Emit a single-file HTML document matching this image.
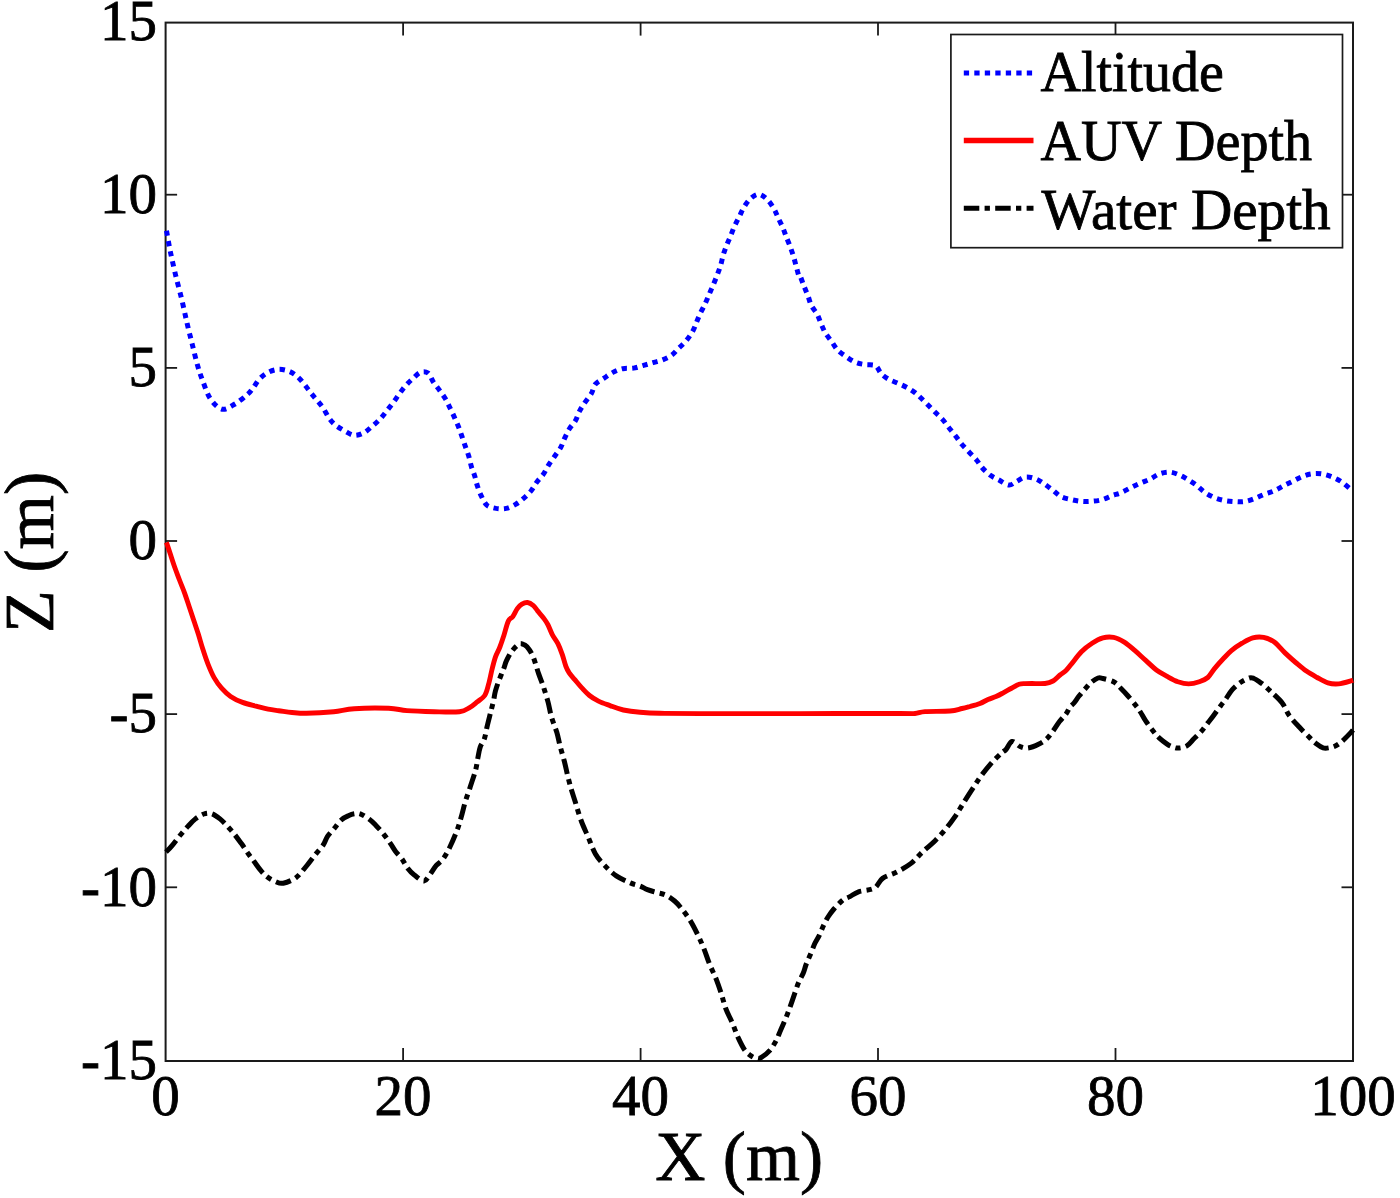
<!DOCTYPE html>
<html><head><meta charset="utf-8"><title>Altitude / AUV Depth / Water Depth</title>
<style>html,body{margin:0;padding:0;background:#fff;width:1400px;height:1198px;overflow:hidden}svg{display:block}</style>
</head><body>
<svg width="1400" height="1198" viewBox="0 0 1400 1198">
<rect width="1400" height="1198" fill="#fff"/>
<g stroke="#1a1a1a" stroke-width="1.8"><rect x="165.6" y="22.6" width="1187.4" height="1038.4" fill="none" stroke="#1a1a1a" stroke-width="2"/><line x1="403.1" y1="1061.0" x2="403.1" y2="1048.0"/><line x1="403.1" y1="22.6" x2="403.1" y2="35.6"/><line x1="640.6" y1="1061.0" x2="640.6" y2="1048.0"/><line x1="640.6" y1="22.6" x2="640.6" y2="35.6"/><line x1="878.0" y1="1061.0" x2="878.0" y2="1048.0"/><line x1="878.0" y1="22.6" x2="878.0" y2="35.6"/><line x1="1115.5" y1="1061.0" x2="1115.5" y2="1048.0"/><line x1="1115.5" y1="22.6" x2="1115.5" y2="35.6"/><line x1="165.6" y1="887.3" x2="177.1" y2="887.3"/><line x1="1353.0" y1="887.3" x2="1341.5" y2="887.3"/><line x1="165.6" y1="714.1" x2="177.1" y2="714.1"/><line x1="1353.0" y1="714.1" x2="1341.5" y2="714.1"/><line x1="165.6" y1="541.0" x2="177.1" y2="541.0"/><line x1="1353.0" y1="541.0" x2="1341.5" y2="541.0"/><line x1="165.6" y1="367.9" x2="177.1" y2="367.9"/><line x1="1353.0" y1="367.9" x2="1341.5" y2="367.9"/><line x1="165.6" y1="194.7" x2="177.1" y2="194.7"/><line x1="1353.0" y1="194.7" x2="1341.5" y2="194.7"/></g>
<clipPath id="c"><rect x="162.6" y="19.6" width="1193.4" height="1044.4"/></clipPath>
<g clip-path="url(#c)" fill="none" stroke-linejoin="round">
<path d="M166.5,230.7 C167.1,234.1 168.8,244.1 170.3,251.4 C171.8,258.7 173.6,266.5 175.5,274.7 C177.4,282.9 180.1,292.3 182.0,300.5 C183.9,308.7 185.5,316.5 187.2,323.8 C188.9,331.1 190.6,337.6 192.3,344.5 C194.0,351.4 195.8,359.2 197.5,365.2 C199.2,371.2 200.5,375.1 202.7,380.7 C204.8,386.3 207.2,394.1 210.4,398.8 C213.6,403.6 218.0,408.3 222.1,409.2 C226.2,410.1 230.7,406.5 235.0,404.0 C239.3,401.5 244.9,396.7 247.9,394.0 C250.9,391.3 251.2,390.3 253.2,387.8 C255.1,385.3 257.1,381.4 259.6,378.8 C262.1,376.2 264.9,374.0 268.0,372.4 C271.1,370.8 274.9,369.6 278.3,369.4 C281.7,369.2 285.5,370.0 288.6,371.1 C291.7,372.2 294.3,374.1 296.9,376.2 C299.5,378.3 301.8,381.2 304.0,383.9 C306.2,386.6 308.3,389.6 310.4,392.3 C312.5,395.0 314.6,397.3 316.8,400.0 C319.0,402.7 321.3,405.3 323.3,408.3 C325.3,411.3 327.0,415.2 329.0,418.0 C331.0,420.8 332.9,423.0 335.5,425.1 C338.1,427.2 341.4,429.1 344.5,430.8 C347.6,432.5 350.9,435.0 354.1,435.3 C357.3,435.6 360.8,434.3 363.8,432.8 C366.8,431.3 369.4,428.6 372.1,426.3 C374.8,424.1 377.5,421.8 379.8,419.3 C382.1,416.9 384.1,414.3 386.2,411.6 C388.3,408.9 390.5,406.1 392.7,403.2 C394.9,400.3 397.0,397.1 399.1,394.2 C401.2,391.3 403.2,388.4 405.5,385.8 C407.8,383.2 410.1,381.0 412.6,378.8 C415.1,376.6 417.7,373.4 420.3,372.4 C422.9,371.4 425.8,371.4 428.0,373.0 C430.2,374.6 431.5,379.2 433.4,382.1 C435.3,385.0 437.4,387.3 439.4,390.1 C441.4,392.9 443.6,395.8 445.4,398.8 C447.2,401.8 448.5,404.9 450.1,408.1 C451.7,411.3 453.4,415.0 454.8,418.2 C456.2,421.4 457.6,424.4 458.8,427.5 C460.0,430.6 461.0,433.7 462.1,436.9 C463.2,440.1 464.4,443.7 465.5,446.9 C466.6,450.1 467.8,452.9 468.8,456.3 C469.8,459.7 470.5,463.7 471.5,467.0 C472.5,470.3 473.8,473.1 474.8,476.3 C475.8,479.5 476.4,483.0 477.5,486.3 C478.6,489.6 479.9,493.3 481.5,496.4 C483.1,499.5 484.4,503.1 486.8,505.1 C489.2,507.1 493.0,507.8 496.2,508.4 C499.4,508.9 503.0,509.1 506.2,508.4 C509.4,507.7 512.7,506.1 515.6,504.4 C518.5,502.7 521.0,500.6 523.6,498.4 C526.2,496.2 528.8,493.7 531.0,491.0 C533.2,488.3 534.6,485.0 536.7,482.2 C538.8,479.4 541.4,477.1 543.4,474.2 C545.4,471.3 546.8,467.8 548.7,464.8 C550.6,461.8 552.7,459.1 554.7,456.2 C556.7,453.3 559.0,450.5 560.7,447.5 C562.4,444.5 563.2,441.2 564.7,438.1 C566.2,435.0 567.6,431.7 569.4,428.8 C571.2,425.9 573.7,423.7 575.4,420.8 C577.1,417.9 577.8,414.4 579.4,411.4 C581.0,408.4 582.7,405.8 584.7,402.8 C586.7,399.8 589.6,396.5 591.4,393.4 C593.2,390.3 593.3,386.7 595.4,384.1 C597.5,381.6 601.1,380.1 604.1,378.1 C607.1,376.1 610.3,373.7 613.4,372.1 C616.5,370.5 619.4,369.4 622.8,368.7 C626.1,368.0 630.0,368.7 633.5,368.1 C637.0,367.6 640.3,366.3 643.5,365.4 C646.7,364.5 649.7,363.6 652.8,362.7 C655.9,361.8 659.1,361.2 662.2,360.0 C665.3,358.8 668.7,357.4 671.5,355.4 C674.3,353.4 676.4,350.4 678.9,348.0 C681.4,345.6 683.9,343.5 686.2,340.7 C688.5,337.9 691.0,334.3 692.7,331.2 C694.5,328.1 695.4,324.9 696.7,321.8 C698.0,318.7 699.2,315.6 700.7,312.5 C702.2,309.4 704.0,306.3 705.4,303.2 C706.8,300.1 708.1,296.9 709.4,293.8 C710.7,290.7 712.1,287.7 713.4,284.5 C714.7,281.3 716.2,277.7 717.4,274.5 C718.6,271.3 719.7,268.5 720.7,265.1 C721.7,261.8 722.4,257.7 723.4,254.4 C724.4,251.1 725.5,248.2 726.7,245.1 C727.9,242.0 729.4,238.9 730.7,235.7 C732.0,232.5 733.2,228.9 734.7,225.7 C736.2,222.5 737.8,219.5 739.4,216.4 C741.0,213.3 742.2,210.0 744.1,207.0 C746.0,204.0 748.2,200.5 750.7,198.4 C753.2,196.3 756.0,194.1 758.8,194.3 C761.6,194.5 764.8,197.2 767.4,199.7 C770.0,202.1 772.3,206.0 774.1,209.0 C775.9,212.0 776.7,214.6 778.1,217.7 C779.5,220.8 781.5,224.6 782.8,227.7 C784.1,230.8 784.9,233.3 786.1,236.4 C787.3,239.5 788.9,243.1 790.1,246.4 C791.3,249.7 792.5,253.2 793.5,256.4 C794.5,259.6 795.2,262.6 796.1,265.8 C797.0,269.0 798.1,274.0 798.8,275.8 C799.5,277.6 799.5,274.8 800.3,276.4 C801.1,278.0 802.5,282.5 803.8,285.7 C805.1,288.9 806.6,292.3 807.9,295.6 C809.2,298.9 809.8,302.5 811.4,305.6 C813.0,308.7 815.6,311.2 817.2,314.3 C818.9,317.4 819.9,321.2 821.3,324.3 C822.7,327.4 823.6,330.1 825.4,333.0 C827.1,335.9 829.8,339.0 831.8,341.8 C833.8,344.6 835.3,347.6 837.6,350.0 C839.9,352.4 842.9,354.4 845.8,356.4 C848.7,358.4 852.0,360.8 855.2,362.2 C858.4,363.6 861.7,364.0 865.1,364.6 C868.5,365.2 873.0,364.2 875.6,365.7 C878.2,367.1 878.8,371.1 880.9,373.3 C883.0,375.6 885.7,377.6 888.5,379.2 C891.3,380.8 894.7,381.8 897.8,383.2 C900.9,384.6 904.0,385.9 907.0,387.5 C910.0,389.1 913.2,391.2 915.5,393.0 C917.8,394.8 918.9,396.0 921.0,398.0 C923.1,400.0 925.6,402.6 928.0,405.0 C930.4,407.4 933.0,410.0 935.5,412.5 C938.0,415.0 940.7,417.3 943.0,420.0 C945.3,422.7 947.3,425.8 949.5,428.5 C951.7,431.2 953.9,433.8 956.0,436.5 C958.1,439.2 959.8,441.9 962.0,444.5 C964.2,447.1 966.6,449.4 969.0,452.0 C971.4,454.6 974.3,457.4 976.5,460.0 C978.7,462.6 979.8,465.0 982.0,467.5 C984.2,470.0 987.2,472.9 990.0,475.0 C992.8,477.1 995.8,478.3 999.0,480.0 C1002.2,481.7 1006.1,484.8 1009.0,485.0 C1011.9,485.2 1013.8,482.8 1016.5,481.5 C1019.2,480.2 1022.2,477.4 1025.5,477.0 C1028.8,476.6 1032.8,477.8 1036.0,479.0 C1039.2,480.2 1041.8,482.2 1044.6,484.1 C1047.4,486.0 1050.3,488.3 1053.1,490.4 C1055.8,492.5 1058.0,495.2 1061.1,496.7 C1064.1,498.2 1068.1,498.8 1071.4,499.6 C1074.7,500.4 1077.8,501.0 1081.1,501.3 C1084.4,501.6 1087.9,501.6 1091.4,501.3 C1094.9,501.0 1098.9,500.6 1102.3,499.6 C1105.7,498.7 1108.9,496.8 1112.0,495.6 C1115.1,494.5 1117.9,494.0 1121.1,492.7 C1124.2,491.4 1127.7,489.2 1130.9,487.6 C1134.2,486.0 1137.4,484.4 1140.6,483.0 C1143.8,481.6 1147.2,480.5 1150.3,479.0 C1153.4,477.5 1156.2,475.0 1159.4,473.9 C1162.6,472.8 1166.4,471.9 1169.7,472.1 C1173.0,472.3 1176.4,473.8 1179.4,475.0 C1182.5,476.2 1185.1,477.9 1188.0,479.6 C1190.9,481.3 1193.9,483.2 1196.6,485.3 C1199.3,487.4 1201.5,490.1 1204.4,492.1 C1207.3,494.1 1210.7,496.0 1213.9,497.4 C1217.2,498.8 1220.5,499.7 1223.9,500.4 C1227.3,501.1 1231.1,501.4 1234.5,501.6 C1237.9,501.8 1241.2,502.1 1244.5,501.6 C1247.8,501.1 1251.3,499.8 1254.5,498.6 C1257.7,497.4 1260.7,495.8 1263.9,494.5 C1267.2,493.2 1270.8,492.3 1274.0,490.9 C1277.2,489.5 1279.8,487.8 1282.8,486.2 C1285.8,484.6 1289.0,483.1 1292.2,481.5 C1295.4,479.9 1298.6,478.1 1301.7,476.8 C1304.8,475.5 1307.8,474.4 1311.1,473.9 C1314.4,473.4 1318.3,473.4 1321.7,473.9 C1325.1,474.4 1328.5,475.5 1331.7,476.8 C1334.9,478.1 1338.0,479.5 1341.1,481.5 C1344.1,483.5 1348.0,487.0 1350.0,488.6 C1352.0,490.2 1352.5,490.6 1353.0,491.0" stroke="#0000ff" stroke-width="5" stroke-dasharray="5.3 5.2"/>
<path d="M166.4,542.4 C167.1,544.4 169.1,550.2 170.5,554.5 C171.9,558.8 173.5,563.8 175.0,568.0 C176.5,572.2 177.9,575.7 179.5,580.0 C181.1,584.3 183.2,589.1 184.8,593.6 C186.4,598.1 187.8,602.6 189.3,607.1 C190.8,611.6 192.3,616.1 193.8,620.6 C195.3,625.1 196.8,629.4 198.3,634.1 C199.8,638.9 201.2,644.1 202.8,649.1 C204.4,654.1 206.1,659.4 208.0,664.1 C209.9,668.9 211.8,673.6 214.1,677.6 C216.4,681.6 218.8,685.1 221.6,688.2 C224.3,691.3 227.1,694.0 230.6,696.4 C234.1,698.8 238.3,700.8 242.6,702.4 C246.8,704.0 251.9,705.1 256.1,706.2 C260.4,707.3 264.4,708.5 268.1,709.2 C271.9,710.0 274.6,710.2 278.6,710.7 C282.6,711.2 287.4,712.1 292.0,712.5 C296.6,712.9 299.4,713.4 306.3,713.3 C313.2,713.2 325.7,712.5 333.7,711.7 C341.7,710.9 345.1,709.3 354.3,708.7 C363.5,708.1 379.8,708.0 388.6,708.3 C397.4,708.6 399.3,710.0 406.9,710.6 C414.5,711.2 425.6,711.5 434.3,711.7 C443.1,711.9 453.4,712.4 459.4,711.7 C465.3,711.0 467.1,708.9 470.0,707.3 C472.9,705.7 474.4,704.2 476.8,702.2 C479.2,700.2 482.7,698.5 484.7,695.5 C486.7,692.5 487.4,688.5 488.6,684.2 C489.8,679.9 490.9,674.0 492.0,669.5 C493.1,665.0 494.1,660.9 495.4,657.1 C496.7,653.4 498.5,650.6 499.9,647.0 C501.3,643.4 502.4,640.0 503.8,635.7 C505.2,631.4 506.8,624.3 508.3,621.1 C509.8,617.9 511.3,618.7 512.8,616.6 C514.3,614.5 515.8,610.8 517.3,608.7 C518.8,606.6 520.2,605.2 521.9,604.2 C523.6,603.2 525.6,602.3 527.5,602.5 C529.4,602.7 531.4,603.9 533.1,605.3 C534.8,606.7 535.9,608.8 537.6,610.9 C539.3,613.0 541.6,615.4 543.3,617.7 C545.0,620.0 546.3,621.7 547.8,624.5 C549.3,627.3 550.6,631.4 552.3,634.6 C554.0,637.8 556.2,640.2 557.9,643.6 C559.6,647.0 561.1,651.1 562.4,654.9 C563.7,658.7 564.7,663.2 565.8,666.2 C566.9,669.2 567.7,670.6 569.2,672.9 C570.7,675.1 572.7,677.2 574.8,679.7 C576.9,682.2 579.1,685.0 581.6,687.6 C584.1,690.2 586.7,693.2 589.5,695.5 C592.3,697.8 595.1,699.4 598.5,701.1 C601.9,702.8 605.9,704.1 610.0,705.6 C614.1,707.1 618.3,708.9 623.3,710.0 C628.3,711.1 633.9,711.8 640.0,712.3 C646.1,712.8 650.0,713.1 660.0,713.3 C670.0,713.5 676.7,713.5 700.0,713.6 C723.3,713.7 766.7,713.6 800.0,713.6 C833.3,713.6 880.8,713.5 900.0,713.5 C919.2,713.5 910.8,713.8 915.0,713.5 C919.2,713.2 919.2,712.0 925.0,711.6 C930.8,711.2 943.8,711.5 950.0,711.0 C956.2,710.5 958.7,709.2 962.0,708.5 C965.3,707.8 967.0,707.3 970.0,706.5 C973.0,705.7 977.0,704.7 980.0,703.5 C983.0,702.3 985.3,700.7 988.0,699.5 C990.7,698.3 993.7,697.5 996.0,696.5 C998.3,695.5 999.7,694.8 1002.0,693.5 C1004.3,692.2 1007.2,690.5 1010.0,689.0 C1012.8,687.5 1016.5,685.2 1019.0,684.3 C1021.5,683.4 1022.8,683.7 1025.0,683.6 C1027.2,683.5 1028.7,683.5 1032.0,683.5 C1035.3,683.5 1041.5,683.9 1045.0,683.5 C1048.5,683.1 1050.5,682.4 1053.0,681.0 C1055.5,679.6 1057.8,676.8 1060.0,675.0 C1062.2,673.2 1064.2,672.2 1066.0,670.5 C1067.8,668.8 1068.3,667.9 1070.8,664.8 C1073.4,661.7 1077.9,655.4 1081.4,651.8 C1084.9,648.2 1088.5,645.5 1092.1,643.2 C1095.7,640.9 1099.3,638.9 1102.9,637.9 C1106.5,636.9 1110.0,636.7 1113.6,637.4 C1117.2,638.1 1120.7,639.9 1124.3,642.1 C1127.9,644.3 1131.4,647.7 1135.0,650.7 C1138.6,653.8 1142.1,657.2 1145.7,660.4 C1149.3,663.6 1152.8,667.3 1156.4,670.0 C1160.0,672.7 1163.5,674.4 1167.1,676.4 C1170.7,678.4 1174.3,680.5 1177.9,681.8 C1181.5,683.0 1185.0,683.9 1188.6,683.9 C1192.2,683.9 1196.1,682.9 1199.3,681.8 C1202.5,680.7 1205.3,679.6 1207.8,677.5 C1210.3,675.4 1211.8,671.9 1214.3,668.9 C1216.8,665.9 1219.9,662.3 1222.8,659.3 C1225.7,656.3 1228.2,653.4 1231.4,650.7 C1234.6,648.0 1238.5,645.3 1242.1,643.2 C1245.7,641.1 1249.2,638.9 1252.8,637.9 C1256.4,636.9 1260.0,636.7 1263.6,637.4 C1267.2,638.1 1270.7,639.5 1274.3,642.1 C1277.9,644.7 1281.4,649.5 1285.0,652.9 C1288.6,656.3 1292.1,659.5 1295.7,662.5 C1299.3,665.5 1302.8,668.6 1306.4,671.1 C1310.0,673.6 1313.5,675.5 1317.1,677.5 C1320.7,679.5 1324.3,681.8 1327.9,682.9 C1331.5,684.0 1334.7,684.3 1338.6,683.9 C1342.5,683.5 1349.0,681.4 1351.4,680.7 C1353.8,680.1 1352.7,680.1 1353.0,680.0" stroke="#ff0000" stroke-width="4.9"/>
<path d="M166.0,852.1 C167.2,850.9 170.5,847.5 172.9,844.6 C175.3,841.8 177.9,838.0 180.4,835.0 C182.9,832.0 185.4,829.1 187.9,826.4 C190.4,823.7 192.7,821.0 195.4,818.9 C198.1,816.8 201.2,814.9 203.9,814.0 C206.6,813.1 208.7,812.8 211.4,813.6 C214.1,814.4 217.1,816.6 220.0,818.9 C222.9,821.2 226.1,824.8 228.6,827.5 C231.1,830.2 232.9,832.3 235.0,835.0 C237.1,837.7 239.2,840.6 241.4,843.6 C243.6,846.6 245.8,850.2 247.9,853.2 C250.1,856.2 252.2,858.9 254.3,861.8 C256.4,864.7 258.6,867.9 260.7,870.4 C262.8,872.9 264.6,874.9 267.1,876.8 C269.6,878.7 273.0,880.6 275.7,881.7 C278.4,882.8 279.8,883.9 283.2,883.2 C286.6,882.5 292.1,880.5 295.9,877.7 C299.7,874.9 302.8,870.4 306.1,866.5 C309.4,862.6 312.9,857.7 315.7,854.1 C318.5,850.5 321.2,848.0 323.2,845.0 C325.2,842.0 325.7,839.1 327.5,836.4 C329.3,833.7 331.6,831.7 333.9,828.9 C336.2,826.1 338.9,822.0 341.4,819.8 C343.9,817.6 346.7,816.5 348.9,815.5 C351.1,814.5 352.6,814.1 354.5,813.8 C356.4,813.5 357.7,813.0 360.2,813.9 C362.7,814.8 366.7,817.4 369.3,819.3 C371.9,821.2 373.3,822.7 375.7,825.2 C378.1,827.7 381.3,831.2 383.8,834.3 C386.3,837.4 388.7,841.0 390.7,843.9 C392.7,846.8 393.7,848.9 395.6,851.4 C397.5,853.9 399.9,856.0 402.0,858.9 C404.1,861.8 405.8,865.9 407.9,868.6 C409.9,871.3 411.6,873.0 414.3,875.0 C417.0,877.0 421.3,881.1 424.0,880.9 C426.7,880.7 428.3,876.5 430.4,873.9 C432.4,871.3 434.2,867.8 436.3,865.4 C438.4,863.0 440.6,862.3 442.9,859.2 C445.2,856.1 447.6,851.8 449.9,847.0 C452.2,842.2 455.0,835.5 456.9,830.6 C458.8,825.7 459.6,822.5 461.0,817.8 C462.4,813.1 463.6,807.5 465.0,802.6 C466.4,797.7 467.9,794.0 469.7,788.6 C471.4,783.2 474.1,775.6 475.5,770.5 C476.9,765.4 477.1,761.6 477.9,757.7 C478.7,753.8 479.1,750.2 480.2,747.1 C481.3,744.0 483.1,742.5 484.3,739.0 C485.5,735.5 486.3,729.8 487.2,726.1 C488.1,722.4 488.8,719.5 489.5,716.8 C490.2,714.1 490.6,712.5 491.3,709.8 C492.0,707.1 492.9,703.5 493.6,700.4 C494.3,697.3 494.5,694.4 495.4,691.1 C496.3,687.8 497.5,684.3 498.9,680.6 C500.3,676.9 502.3,672.2 503.6,668.9 C504.9,665.6 505.1,663.6 506.5,660.7 C507.9,657.8 509.7,654.1 511.7,651.4 C513.7,648.7 516.9,645.5 518.7,644.3 C520.5,643.1 521.1,643.6 522.5,644.0 C523.9,644.4 525.2,644.7 526.9,646.7 C528.6,648.7 530.8,651.5 532.8,656.0 C534.8,660.5 536.9,668.8 538.7,673.9 C540.5,679.0 541.9,682.0 543.4,686.7 C544.9,691.4 546.6,696.8 548.0,701.9 C549.4,707.0 550.0,712.0 551.5,717.1 C553.0,722.2 555.3,727.3 556.8,732.3 C558.3,737.3 559.0,742.0 560.3,746.9 C561.6,751.8 563.1,756.5 564.4,761.5 C565.7,766.5 566.7,772.0 567.9,776.7 C569.1,781.5 570.2,785.7 571.5,790.0 C572.8,794.3 573.8,797.1 575.4,802.3 C577.0,807.5 579.1,815.2 581.3,821.0 C583.4,826.8 586.0,831.8 588.3,837.3 C590.6,842.8 592.6,849.0 595.3,853.7 C598.0,858.4 601.1,861.7 604.6,865.4 C608.1,869.1 612.0,873.0 616.3,875.9 C620.6,878.8 626.3,881.2 630.3,882.9 C634.2,884.6 637.1,884.9 640.0,886.0 C642.9,887.1 644.6,888.6 647.4,889.7 C650.2,890.8 653.6,891.6 656.7,892.5 C659.8,893.4 662.8,893.7 665.8,895.1 C668.8,896.5 671.9,898.7 674.6,901.0 C677.3,903.3 679.2,905.6 681.9,909.0 C684.6,912.4 688.0,917.0 690.7,921.4 C693.4,925.8 695.8,930.8 698.0,935.3 C700.2,939.8 701.8,943.5 703.8,948.4 C705.8,953.3 707.6,959.4 709.7,964.5 C711.8,969.6 714.3,974.2 716.2,979.1 C718.1,984.0 719.7,988.8 721.3,993.7 C722.9,998.6 723.9,1003.4 725.7,1008.3 C727.5,1013.2 730.2,1018.0 732.3,1022.9 C734.4,1027.8 736.0,1033.0 738.1,1037.5 C740.2,1042.0 742.4,1046.8 744.7,1050.0 C747.0,1053.2 750.0,1055.1 752.0,1056.5 C754.0,1057.9 755.5,1058.1 757.0,1058.3 C758.5,1058.5 758.9,1059.0 761.0,1057.7 C763.1,1056.4 767.1,1053.6 769.6,1050.7 C772.1,1047.8 774.4,1043.9 776.2,1040.5 C778.0,1037.1 779.0,1033.9 780.6,1030.2 C782.2,1026.5 784.1,1022.4 785.7,1018.5 C787.3,1014.6 788.7,1010.9 790.1,1006.9 C791.5,1002.9 793.0,998.5 794.4,994.4 C795.8,990.2 797.3,985.5 798.8,982.0 C800.3,978.5 802.0,976.2 803.2,973.3 C804.4,970.4 804.9,967.7 806.1,964.5 C807.3,961.3 809.0,957.8 810.5,954.3 C812.0,950.8 813.4,946.5 814.9,943.3 C816.4,940.1 817.8,938.3 819.3,935.3 C820.8,932.3 822.2,928.1 823.7,925.1 C825.2,922.1 826.3,919.7 828.0,917.0 C829.7,914.3 831.5,911.8 833.9,909.0 C836.3,906.2 839.9,902.3 842.6,900.2 C845.3,898.1 847.2,898.0 849.9,896.6 C852.5,895.2 854.5,893.2 858.5,891.8 C862.5,890.4 870.1,890.5 874.1,888.3 C878.1,886.1 878.8,881.1 882.6,878.4 C886.4,875.7 892.1,874.5 896.8,872.0 C901.5,869.5 906.8,866.7 911.0,863.4 C915.2,860.1 918.3,855.9 922.3,852.1 C926.3,848.3 931.1,844.7 935.1,840.7 C939.1,836.7 943.2,832.0 946.5,828.0 C949.8,824.0 952.4,820.4 955.0,816.6 C957.6,812.8 959.3,809.7 962.1,805.2 C964.9,800.7 968.9,794.3 972.0,789.6 C975.1,784.9 977.4,781.0 980.5,776.8 C983.6,772.5 987.0,768.1 990.5,764.1 C994.0,760.1 999.2,755.1 1001.8,752.7 C1004.4,750.3 1004.3,751.4 1006.0,749.5 C1007.7,747.6 1009.7,742.0 1012.0,741.5 C1014.3,741.0 1017.3,745.4 1020.0,746.5 C1022.7,747.6 1024.8,748.4 1028.0,748.0 C1031.2,747.6 1035.8,745.6 1039.0,744.0 C1042.2,742.4 1044.7,740.7 1047.0,738.5 C1049.3,736.3 1050.9,733.8 1053.0,731.0 C1055.1,728.2 1057.3,724.3 1059.5,721.5 C1061.7,718.7 1064.2,716.4 1066.0,714.0 C1067.8,711.6 1068.7,708.8 1070.0,707.0 C1071.3,705.2 1072.5,704.8 1074.0,703.0 C1075.5,701.2 1077.2,698.3 1079.0,696.0 C1080.8,693.7 1083.0,691.2 1085.0,689.0 C1087.0,686.8 1088.8,684.3 1091.0,682.5 C1093.2,680.7 1096.0,678.7 1098.0,678.0 C1100.0,677.3 1100.3,677.8 1103.0,678.5 C1105.7,679.2 1111.0,680.3 1114.0,682.0 C1117.0,683.7 1118.7,686.2 1121.0,688.5 C1123.3,690.8 1125.3,692.9 1128.0,696.0 C1130.7,699.1 1134.9,704.3 1137.0,707.0 C1139.1,709.7 1139.0,709.7 1140.4,712.0 C1141.9,714.3 1143.6,717.8 1145.7,720.9 C1147.8,724.0 1150.7,727.9 1152.9,730.7 C1155.1,733.5 1156.7,735.7 1159.1,737.9 C1161.5,740.1 1164.9,742.6 1167.1,744.1 C1169.3,745.6 1170.7,746.1 1172.5,746.8 C1174.3,747.5 1175.5,748.2 1177.9,748.1 C1180.3,748.0 1184.1,747.5 1186.8,745.9 C1189.5,744.3 1191.5,741.2 1193.9,738.8 C1196.3,736.4 1198.9,734.1 1201.1,731.6 C1203.3,729.1 1205.2,726.3 1207.3,723.6 C1209.4,720.9 1211.4,718.5 1213.6,715.5 C1215.8,712.5 1218.6,708.5 1220.7,705.7 C1222.8,702.9 1224.2,701.3 1226.1,698.6 C1228.0,695.9 1229.9,692.3 1232.3,689.6 C1234.7,686.9 1237.6,684.4 1240.4,682.5 C1243.2,680.6 1247.0,678.7 1249.3,678.0 C1251.6,677.3 1252.3,677.9 1254.0,678.5 C1255.7,679.1 1257.6,680.5 1259.4,681.8 C1261.2,683.0 1263.2,684.4 1265.0,686.0 C1266.8,687.6 1267.5,688.4 1270.4,691.2 C1273.3,694.0 1279.1,698.9 1282.2,703.0 C1285.3,707.1 1286.4,711.6 1289.3,715.6 C1292.2,719.6 1296.1,723.6 1299.5,727.3 C1302.9,731.0 1307.0,734.9 1309.7,737.6 C1312.5,740.3 1313.8,741.8 1316.0,743.5 C1318.2,745.2 1320.9,747.1 1323.1,747.8 C1325.3,748.5 1327.0,748.1 1329.0,747.8 C1331.0,747.5 1332.6,747.2 1334.8,746.2 C1337.0,745.2 1339.4,743.6 1341.9,741.5 C1344.4,739.4 1348.0,735.5 1349.8,733.6 C1351.6,731.7 1352.5,730.6 1353.0,730.0" stroke="#000" stroke-width="5" stroke-dasharray="15.5 5.3 5.3 5.3"/>
</g>
<g font-family="Liberation Serif, serif" font-size="57" fill="#000" stroke="#000" stroke-width="0.8"><text x="165.6" y="1115.4" text-anchor="middle">0</text><text x="403.1" y="1115.4" text-anchor="middle">20</text><text x="640.6" y="1115.4" text-anchor="middle">40</text><text x="878.0" y="1115.4" text-anchor="middle">60</text><text x="1115.5" y="1115.4" text-anchor="middle">80</text><text x="1353.0" y="1115.4" text-anchor="middle">100</text><text x="157" y="1078.6" text-anchor="end">-15</text><text x="157" y="905.5" text-anchor="end">-10</text><text x="157" y="732.3" text-anchor="end">-5</text><text x="157" y="559.2" text-anchor="end">0</text><text x="157" y="386.1" text-anchor="end">5</text><text x="157" y="212.9" text-anchor="end">10</text><text x="157" y="39.8" text-anchor="end">15</text></g>
<text x="655.3" y="1179.6" textLength="167.8" lengthAdjust="spacingAndGlyphs" font-family="Liberation Serif, serif" font-size="70" stroke="#000" stroke-width="0.8">X (m)</text>
<text transform="translate(53.0,633.0) rotate(-90)" x="0" y="0" font-family="Liberation Serif, serif" font-size="70" stroke="#000" stroke-width="0.8">Z (m)</text>
<rect x="950.9" y="34.5" width="391.6" height="213.2" fill="#fff" stroke="#1a1a1a" stroke-width="1.7"/><line x1="963.8" y1="72.9" x2="1033.5" y2="72.9" stroke="#0000ff" stroke-width="5" stroke-dasharray="5.3 5.2"/><line x1="963.8" y1="140.5" x2="1033.5" y2="140.5" stroke="#ff0000" stroke-width="5.5"/><line x1="963.8" y1="208.3" x2="1033.5" y2="208.3" stroke="#000" stroke-width="5" stroke-dasharray="15.5 5.3 5.3 5.3"/><g font-family="Liberation Serif, serif" font-size="57" fill="#000" stroke="#000" stroke-width="0.8"><text x="1040.6" y="90.7" textLength="183.2" lengthAdjust="spacingAndGlyphs">Altitude</text><text x="1040.5" y="160.3" textLength="271.6" lengthAdjust="spacingAndGlyphs">AUV Depth</text><text x="1041.5" y="229.4" textLength="289.2" lengthAdjust="spacingAndGlyphs">Water Depth</text></g>
</svg>
</body></html>
